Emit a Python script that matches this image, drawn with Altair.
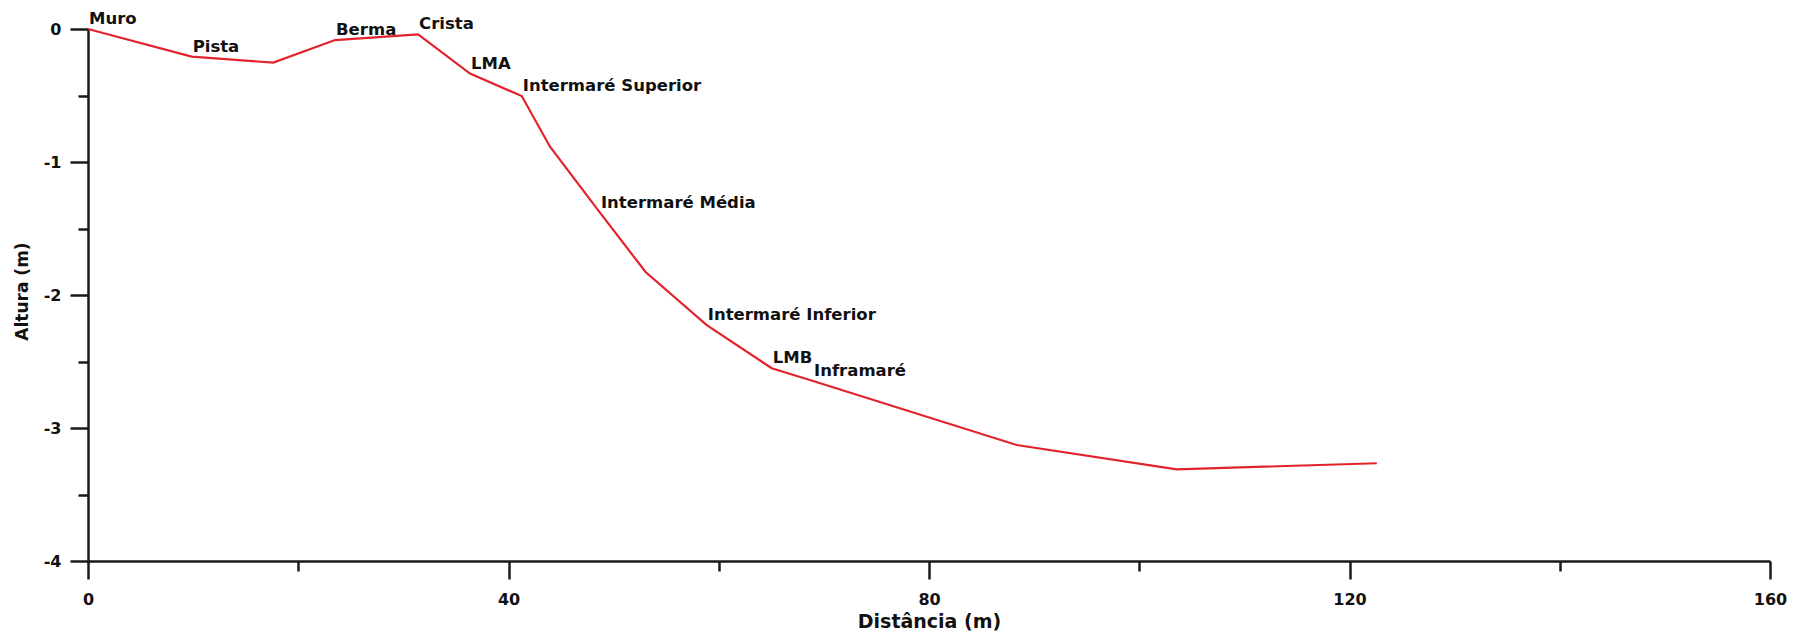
import altair as alt
import pandas as pd

# Beach profile (distance in m, height in m)
distancia = [0, 9.86, 17.63, 23.5, 31.4, 36.34, 41.26, 43.95, 48.7, 53.04, 58.86, 65.04, 68.97, 88.34, 103.56, 122.6]
altura = [0, -0.208, -0.253, -0.083, -0.040, -0.335, -0.504, -0.885, -1.38, -1.827, -2.226, -2.551, -2.647, -3.128, -3.311, -3.265]
rotulos = ["Muro", "Pista", "", "Berma", "Crista", "LMA", "Intermaré Superior", "", "Intermaré Média", "",
           "Intermaré Inferior", "LMB", "Inframaré", "", "", ""]

x_ticks = [0, 20, 40, 60, 80, 100, 120, 140, 160]
y_ticks = [0, -0.5, -1, -1.5, -2, -2.5, -3, -3.5, -4]

df = pd.DataFrame({"d": distancia, "h": altura, "rotulo": rotulos, "ordem": list(range(len(distancia)))})

FONT = "DejaVu Sans"

x_enc = alt.X(
    "d:Q",
    scale=alt.Scale(domain=[0, 160], nice=False, zero=False),
    axis=alt.Axis(
        title="Distância (m)",
        values=x_ticks,
        grid=False,
        domainColor="#1a1a1a",
        domainWidth=2.5,
        tickColor="#1a1a1a",
        tickWidth=2.5,
        tickSize={"condition": {"test": "datum.value % 40 != 0", "value": 10}, "value": 18},
        labelExpr="datum.value % 40 == 0 ? '' + datum.value : ''",
        labelFont=FONT,
        labelFontWeight="bold",
        labelFontSize=16,
        labelColor="#111",
        labelPadding=12,
        labelFlush=False,
        titleFont=FONT,
        titleFontWeight="bold",
        titleFontSize=19,
        titleColor="#111",
        titleBaseline="alphabetic",
        titleY=66,
    ),
)

y_enc = alt.Y(
    "h:Q",
    scale=alt.Scale(domain=[-4, 0], nice=False, zero=False),
    axis=alt.Axis(
        title="Altura (m)",
        values=y_ticks,
        grid=False,
        domainColor="#1a1a1a",
        domainWidth=2.5,
        tickColor="#1a1a1a",
        tickWidth=2.5,
        tickSize={"condition": {"test": "datum.value % 1 != 0", "value": 10}, "value": 18},
        labelExpr="datum.value % 1 == 0 ? '' + datum.value : ''",
        labelFont=FONT,
        labelFontWeight="bold",
        labelFontSize=16,
        labelColor="#111",
        labelPadding=9,
        labelFlush=False,
        titleFont=FONT,
        titleFontWeight="bold",
        titleFontSize=17,
        titleColor="#111",
        titleBaseline="alphabetic",
        titleX=-61,
        titleY=262,
    ),
)

line = alt.Chart(df).mark_line(color="#e3232b", strokeWidth=2.2).encode(
    x=x_enc, y=y_enc, order="ordem:Q"
)

labels = alt.Chart(df).transform_filter("datum.rotulo != ''").mark_text(
    align="left", baseline="alphabetic", dx=1, dy=-5,
    font=FONT, fontWeight="bold", fontSize=16.5, color="#111"
).encode(x="d:Q", y="h:Q", text="rotulo:N")

chart = alt.layer(line, labels).properties(
    width=1682,
    height=532,
    autosize=alt.AutoSizeParams(type="none"),
    padding={"left": 80, "top": 21, "right": 30, "bottom": 70},
).configure(background="white", view=alt.ViewConfig(stroke=None))

chart.save("out.html", embed_options={"renderer": "svg", "actions": False})
